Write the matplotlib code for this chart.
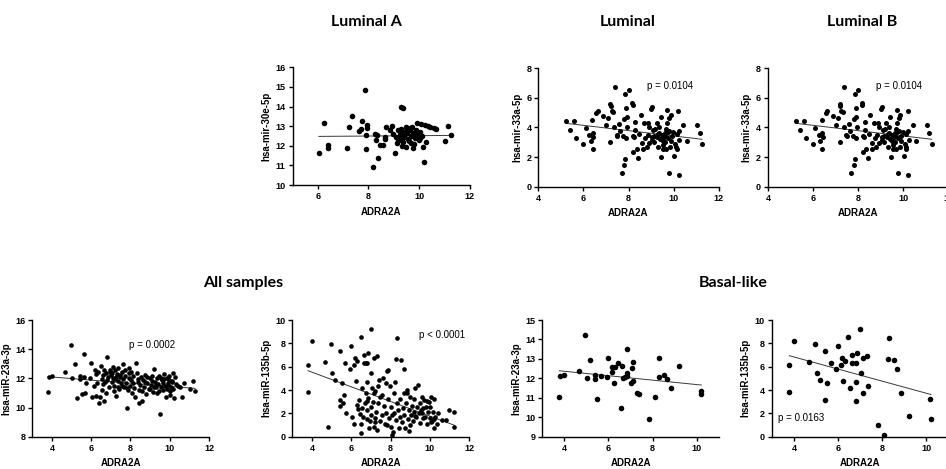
import numpy as np
import matplotlib
matplotlib.use("Agg")
import matplotlib.pyplot as plt

# ---------------- data ----------------
# Luminal A : ADRA2A vs hsa-mir-30e-5p
lumA_x = [6.04, 6.25, 6.41, 6.41, 7.17, 7.25, 7.37, 7.62, 7.70, 7.76, 7.87, 7.93, 7.93, 7.89, 7.90,
          8.17, 8.24, 8.33, 8.30, 8.38, 8.46, 8.57, 8.66, 8.66, 8.70, 8.87, 8.93, 8.97, 9.03, 9.07,
          9.13, 9.16, 9.24, 9.30, 9.30, 9.33, 9.29, 9.38, 9.38, 9.42, 9.47, 9.49, 9.54, 9.58, 9.64,
          9.67, 9.70, 9.72, 9.76, 9.76, 9.83, 9.87, 9.90, 9.93, 9.99, 10.03, 10.09, 10.13, 10.16,
          10.20, 10.24, 10.26, 10.36, 10.45, 10.58, 10.67, 11.04, 11.16, 11.26,
          9.20, 9.35, 9.50, 9.60, 9.45, 9.55, 9.80, 9.95, 10.05, 9.25, 9.15, 9.65]
lumA_y = [11.62, 13.18, 12.04, 11.87, 11.90, 12.94, 13.52, 12.76, 12.84, 13.28, 14.85, 13.06, 12.90, 12.55, 11.82,
          10.90, 12.60, 12.55, 12.30, 11.36, 12.04, 12.04, 12.47, 12.33, 12.98, 12.80, 13.00, 12.60, 11.65, 12.47,
          12.13, 12.80, 12.55, 12.87, 12.30, 11.99, 14.00, 13.90, 12.64, 12.43, 12.94, 11.92, 12.64, 12.33, 12.80,
          12.50, 12.16, 12.94, 12.67, 11.87, 12.38, 12.80, 13.15, 12.55, 12.30, 12.72, 13.11, 12.50, 11.96,
          11.19, 13.06, 12.21, 13.01, 12.98, 12.90, 12.84, 12.26, 13.01, 12.53,
          12.45, 12.20, 12.75, 12.25, 12.60, 12.85, 12.10, 12.65, 12.40, 12.70, 12.35, 12.90]
lumA_fit = (0.0095, 12.42)  # slope, intercept

# Luminal (and Luminal B, identical panel) : ADRA2A vs hsa-mir-33a-5p
lum_x = [5.24, 5.41, 5.58, 5.67, 6.00, 6.10, 6.25, 6.32, 6.38, 6.41, 6.41, 6.44, 6.56, 6.63, 6.88,
         7.00, 7.11, 7.18, 7.21, 7.18, 7.25, 7.33, 7.36, 7.39, 7.48, 7.51, 7.60, 7.62, 7.70, 7.77,
         7.80, 7.80, 7.85, 7.85, 7.89, 7.92, 7.89, 7.95, 8.01, 8.16, 8.19, 8.22, 8.25, 8.22, 8.29,
         8.30, 8.36, 8.44, 8.48, 8.54, 8.59, 8.63, 8.69, 8.73, 8.81, 8.88, 8.93, 8.93, 8.99, 9.04,
         9.04, 9.10, 9.13, 9.19, 9.25, 9.28, 9.31, 9.37, 9.37, 9.40, 9.43, 9.44, 9.49, 9.52, 9.55,
         9.58, 9.61, 9.64, 9.67, 9.70, 9.70, 9.73, 9.78, 9.81, 9.81, 9.84, 9.87, 9.92, 9.99, 10.02,
         10.06, 10.11, 10.14, 10.14, 10.20, 10.23, 10.23, 10.26, 10.43, 10.58, 11.03, 11.15, 11.26,
         9.15, 9.33, 9.46, 9.62, 9.75, 9.55, 9.05, 9.68, 9.90, 8.85]
lum_y = [4.44, 3.83, 4.44, 3.27, 2.86, 3.94, 3.49, 3.11, 4.50, 3.60, 2.57, 3.33, 5.00, 5.14, 4.77,
         4.19, 4.64, 5.59, 5.45, 3.04, 5.11, 5.07, 4.05, 6.76, 3.51, 3.42, 4.23, 3.74, 0.95, 3.42,
         1.46, 4.55, 6.26, 1.85, 5.29, 4.68, 3.27, 4.01, 6.53, 5.68, 5.50, 3.42, 3.33, 2.36, 3.83,
         4.39, 2.52, 1.91, 3.56, 4.84, 2.93, 2.57, 4.32, 3.27, 2.70, 4.28, 4.01, 2.93, 5.23, 5.36,
         3.33, 3.83, 3.42, 3.87, 4.32, 3.33, 2.66, 4.01, 3.60, 3.20, 4.73, 2.03, 3.49, 3.11, 2.52,
         3.38, 3.02, 3.42, 2.52, 5.18, 4.28, 3.72, 0.90, 4.62, 3.78, 2.70, 4.84, 3.42, 3.72, 2.07,
         2.88, 2.70, 2.52, 3.56, 5.14, 3.74, 0.79, 3.15, 4.17, 3.11, 4.17, 3.65, 2.91,
         3.05, 3.55, 3.25, 3.65, 3.30, 2.85, 3.15, 3.90, 3.10, 3.50]
lum_fit = (-0.179, 5.22)
lum_p = "p = 0.0104"

# All samples : ADRA2A vs hsa-miR-23a-3p
all23_x = [3.80, 3.83, 4.00, 4.68, 4.97, 5.03, 5.19, 5.27, 5.41, 5.44, 5.53, 5.61, 5.61, 5.66, 5.75,
           5.92, 5.98, 6.05, 6.12, 6.20, 6.22, 6.25, 6.32, 6.37, 6.42, 6.46, 6.49, 6.54, 6.56, 6.59,
           6.63, 6.66, 6.71, 6.76, 6.80, 6.83, 6.88, 6.90, 6.97, 7.02, 7.07, 7.10, 7.14, 7.17, 7.22,
           7.24, 7.27, 7.31, 7.36, 7.39, 7.42, 7.47, 7.51, 7.58, 7.61, 7.64, 7.68, 7.73, 7.78, 7.81,
           7.85, 7.90, 7.93, 7.98, 8.03, 8.08, 8.12, 8.15, 8.20, 8.25, 8.29, 8.32, 8.36, 8.41, 8.46,
           8.49, 8.53, 8.58, 8.63, 8.69, 8.75, 8.80, 8.86, 8.92, 8.97, 9.03, 9.08, 9.14, 9.20, 9.25,
           9.31, 9.34, 9.37, 9.42, 9.47, 9.51, 9.54, 9.59, 9.64, 9.68, 9.71, 9.76, 9.80, 9.85, 9.88,
           9.93, 9.98, 10.02, 10.05, 10.10, 10.15, 10.19, 10.22, 10.25, 10.32, 10.53, 10.61, 10.73,
           11.03, 11.17, 11.29,
           6.95, 7.05, 7.20, 7.35, 7.45, 7.55, 7.70, 7.80, 8.05, 8.40, 8.60, 8.85, 9.00, 9.10, 9.30,
           9.45, 9.55, 9.70, 9.90, 10.00, 10.12, 6.60, 6.75, 7.12, 7.95, 8.72, 9.18, 9.62, 9.95, 10.40]
all23_y = [11.04, 12.11, 12.18, 12.41, 14.26, 12.05, 12.96, 10.63, 12.16, 11.93, 10.93, 13.65, 12.11, 10.97, 11.70,
           12.05, 13.03, 10.74, 11.47, 12.57, 12.30, 10.79, 11.70, 12.46, 10.33, 10.74, 12.85, 11.20, 11.93, 12.23,
           10.47, 12.57, 11.75, 11.02, 13.49, 11.89, 12.11, 11.38, 12.46, 12.23, 11.77, 12.80, 11.15, 11.47, 12.57,
           10.79, 12.07, 12.30, 11.43, 11.84, 11.25, 12.11, 11.66, 12.46, 12.98, 11.93, 11.38, 12.16, 11.70, 9.94,
           11.20, 12.34, 12.69, 11.47, 11.89, 11.02, 11.66, 12.16, 11.31, 10.74, 13.07, 12.39, 11.77, 11.20, 10.33,
           11.54, 12.07, 10.47, 11.89, 11.38, 12.23, 10.93, 11.66, 11.25, 12.00, 11.54, 12.16, 11.09, 12.62, 11.77,
           11.38, 12.00, 10.97, 11.61, 12.16, 9.55, 11.38, 11.89, 11.20, 11.66, 12.30, 11.47, 10.70, 12.00, 11.25,
           11.70, 12.16, 10.86, 11.38, 11.84, 12.39, 11.25, 10.63, 12.11, 11.61, 11.38, 10.74, 11.70,
           11.25, 11.84, 11.15,
           12.60, 12.40, 11.95, 12.70, 12.20, 11.50, 12.55, 11.35, 12.45, 11.95, 11.15, 12.10, 11.30, 11.85, 11.55,
           11.15, 12.05, 11.95, 11.55, 11.10, 11.75, 11.60, 12.35, 12.05, 12.00, 11.75, 11.40, 11.95, 11.90, 11.45]
all23_fit = (-0.107, 12.52)
all23_p = "p = 0.0002"

# All samples : ADRA2A vs hsa-miR-135b-5p
all135_x = [3.80, 3.80, 4.00, 4.68, 4.98, 5.03, 5.18, 5.40, 5.40, 5.51, 5.66, 5.93, 5.99, 6.14, 6.19,
            6.23, 6.31, 6.47, 6.56, 6.64, 6.64, 6.79, 6.79, 6.79, 6.85, 7.00, 7.02, 7.14, 7.14, 7.32,
            7.36, 7.81, 8.07, 8.25, 8.31, 8.52, 8.67, 8.85, 9.22, 10.18, 10.20,
            4.82, 5.63, 5.60, 5.72, 6.05, 6.14, 6.34, 6.39, 6.44, 6.47, 6.51, 6.56, 6.61, 6.68, 6.73,
            6.78, 6.81, 6.85, 6.90, 6.95, 6.98, 7.01, 7.06, 7.11, 7.15, 7.18, 7.23, 7.28, 7.32, 7.35,
            7.40, 7.45, 7.48, 7.57, 7.62, 7.65, 7.69, 7.74, 7.77, 7.82, 7.86, 7.91, 7.96, 8.00, 8.02,
            8.07, 8.12, 8.16, 8.19, 8.24, 8.29, 8.33, 8.36, 8.41, 8.46, 8.49, 8.58, 8.63, 8.66, 8.70,
            8.75, 8.80, 8.83, 8.87, 8.92, 8.97, 9.00, 9.03, 9.08, 9.13, 9.17, 9.20, 9.25, 9.30, 9.34,
            9.37, 9.42, 9.47, 9.50, 9.54, 9.59, 9.64, 9.67, 9.71, 9.76, 9.81, 9.84, 9.88, 9.93, 9.98,
            10.01, 10.04, 10.09, 10.14, 10.18, 10.26, 10.35, 10.43, 10.60, 10.82, 10.95, 11.24, 11.20,
            7.89, 6.74, 5.45, 6.30, 7.55, 8.95, 9.60, 9.85, 10.05, 7.20]
all135_y = [3.86, 6.14, 8.20, 6.43, 7.97, 5.43, 4.86, 7.37, 3.14, 4.57, 6.34, 5.77, 7.80, 6.14, 6.71,
            4.77, 6.51, 8.51, 4.14, 7.00, 6.29, 6.29, 4.71, 3.09, 7.14, 9.23, 5.43, 6.71, 3.77, 6.94,
            4.37, 1.00, 0.17, 6.69, 8.43, 6.57, 5.80, 3.74, 1.80, 3.23, 1.51,
            0.86, 3.57, 2.90, 2.00, 1.71, 1.09, 2.34, 3.14, 1.94, 0.34, 1.09, 2.43, 1.66, 2.86, 3.77,
            1.49, 2.29, 3.29, 0.71, 1.37, 2.57, 1.86, 4.14, 3.00, 0.80, 1.57, 3.94, 2.14, 0.57, 2.86,
            4.86, 1.37, 3.37, 1.86, 5.00, 2.63, 1.09, 4.57, 2.06, 5.66, 3.20, 1.57, 4.34, 2.51, 0.86,
            1.86, 0.43, 3.71, 2.00, 4.71, 1.43, 2.91, 2.29, 0.71, 1.66, 3.20, 1.29, 2.43, 3.71, 1.86,
            0.71, 2.91, 4.00, 1.49, 2.29, 3.43, 1.00, 1.86, 2.63, 1.37, 3.20, 2.14, 4.14, 1.66, 2.57,
            4.43, 2.00, 1.20, 2.86, 2.29, 3.37, 1.57, 2.43, 3.14, 1.71, 2.57, 1.09, 2.14, 3.00, 1.57,
            2.57, 3.37, 1.37, 2.14, 0.71, 1.71, 1.09, 2.00, 1.43, 1.43, 2.26, 2.11, 0.83,
            5.69, 6.34, 2.60, 2.70, 3.60, 0.45, 2.05, 3.05, 1.25, 1.30]
all135_fit = (-0.628, 8.04)
all135_p = "p < 0.0001"

# Basal-like : ADRA2A vs hsa-miR-23a-3p
bas23_x = [3.77, 3.80, 4.00, 4.66, 4.95, 5.01, 5.16, 5.39, 5.39, 5.50, 5.65, 5.92, 5.98, 6.15, 6.18,
           6.24, 6.30, 6.43, 6.58, 6.60, 6.64, 6.77, 6.83, 6.84, 6.86, 7.01, 7.05, 7.13, 7.13, 7.31,
           7.37, 7.82, 8.10, 8.28, 8.31, 8.52, 8.67, 8.85, 9.21, 10.20, 10.21]
bas23_y = [11.06, 12.12, 12.19, 12.39, 14.25, 12.03, 12.94, 12.15, 11.98, 10.94, 12.12, 12.05, 13.03, 12.60, 12.33,
           11.78, 12.60, 12.81, 10.47, 12.63, 12.02, 12.09, 13.49, 12.29, 12.12, 11.74, 12.51, 12.84, 11.88, 11.23,
           11.19, 9.93, 11.06, 12.09, 13.06, 12.17, 11.95, 11.50, 12.65, 11.20, 11.33]
bas23_fit = (-0.114, 12.82)

# Basal-like : ADRA2A vs hsa-miR-135b-5p
bas135_x = [3.80, 3.80, 4.00, 4.68, 4.98, 5.03, 5.18, 5.40, 5.40, 5.51, 5.66, 5.93, 5.99, 6.14, 6.19,
            6.23, 6.31, 6.47, 6.56, 6.64, 6.64, 6.79, 6.79, 6.79, 6.85, 7.00, 7.02, 7.14, 7.14, 7.32,
            7.36, 7.81, 8.07, 8.25, 8.31, 8.52, 8.67, 8.85, 9.22, 10.18, 10.20]
bas135_y = [3.86, 6.14, 8.20, 6.43, 7.97, 5.43, 4.86, 7.37, 3.14, 4.57, 6.34, 5.77, 7.80, 6.14, 6.71,
            4.77, 6.51, 8.51, 4.14, 7.00, 6.29, 6.29, 4.71, 3.09, 7.14, 9.23, 5.43, 6.71, 3.77, 6.94,
            4.37, 1.00, 0.17, 6.69, 8.43, 6.57, 5.80, 3.74, 1.80, 3.23, 1.51]
bas135_fit = (-0.519, 8.91)
bas135_p = "p = 0.0163"

titles = ["Luminal A", "Luminal", "Luminal B", "All samples", "Basal-like"]
xlabel = "ADRA2A"

# ---------------- drawing ----------------
W, H = 946, 469
fig = plt.figure(figsize=(W / 100, H / 100), dpi=100)
FONT = "Liberation Sans"


def rect(left, right, top, bottom):
    return [left / W, 1 - bottom / H, (right - left) / W, (bottom - top) / H]


def panel(r, x, y, fit, ylabel, xlim, xticks, ylim, yticks, ms, ptext=None, ppos=None):
    ax = fig.add_axes(r)
    x = np.asarray(x)
    y = np.asarray(y)
    ax.scatter(x, y, s=ms, c="black", linewidths=0, zorder=3, clip_on=False)
    xs = np.array([x.min(), x.max()])
    ax.plot(xs, fit[1] + fit[0] * xs, color="#3a3a3a", lw=0.7, zorder=2)
    ax.set_xlim(*xlim)
    ax.set_ylim(*ylim)
    ax.set_xticks(xticks)
    ax.set_yticks(yticks)
    for s in ["top", "right"]:
        ax.spines[s].set_visible(False)
    for s in ["left", "bottom"]:
        ax.spines[s].set_linewidth(1.0)
        ax.spines[s].set_color("black")
    ax.tick_params(direction="out", length=3, width=1.0, colors="black", pad=2)
    for lab in ax.get_xticklabels() + ax.get_yticklabels():
        lab.set_fontfamily(FONT)
        lab.set_fontweight("bold")
        lab.set_fontsize(6.5)
    ax.set_xlabel(xlabel, fontfamily=FONT, fontweight="bold", fontsize=7, labelpad=4)
    ax.set_ylabel(ylabel, fontfamily=FONT, fontweight="bold", fontsize=7, labelpad=3)
    if ptext:
        ax.text(ppos[0], ppos[1], ptext, fontfamily=FONT, fontsize=7, ha="left", va="center")
    ax.patch.set_alpha(0)
    return ax


# top row
panel(rect(292.5, 469.7, 67.3, 185), lumA_x, lumA_y, lumA_fit, "hsa-mir-30e-5p",
      (5, 12), [6, 8, 10, 12], (10, 16), [10, 11, 12, 13, 14, 15, 16], 16)
panel(rect(538.3, 718.7, 68.3, 186.7), lum_x, lum_y, lum_fit, "hsa-mir-33a-5p",
      (4, 12), [4, 6, 8, 10, 12], (0, 8), [0, 2, 4, 6, 8], 13, lum_p, (8.8, 6.8))
panel(rect(768.0, 948.4, 68.3, 186.7), lum_x, lum_y, lum_fit, "hsa-mir-33a-5p",
      (4, 12), [4, 6, 8, 10, 12], (0, 8), [0, 2, 4, 6, 8], 13, lum_p, (8.8, 6.8))

# bottom row
panel(rect(32.3, 209.0, 320, 436.7), all23_x, all23_y, all23_fit, "hsa-miR-23a-3p",
      (3, 12), [4, 6, 8, 10, 12], (8, 16), [8, 10, 12, 14, 16], 11, all23_p, (7.95, 14.3))
panel(rect(292.3, 469.3, 320, 436.7), all135_x, all135_y, all135_fit, "hsa-miR-135b-5p",
      (3, 12), [4, 6, 8, 10, 12], (0, 10), [0, 2, 4, 6, 8, 10], 11, all135_p, (9.42, 8.7))
panel(rect(542.3, 718.7, 320, 436.7), bas23_x, bas23_y, bas23_fit, "hsa-miR-23a-3p",
      (3, 11), [4, 6, 8, 10], (9, 15), [9, 10, 11, 12, 13, 14, 15], 16)
panel(rect(771.7, 948.6, 320, 436.7), bas135_x, bas135_y, bas135_fit, "hsa-miR-135b-5p",
      (3, 11), [4, 6, 8, 10], (0, 10), [0, 2, 4, 6, 8, 10], 16, bas135_p, (3.28, 1.6))

# titles
title_pos = [(366, 22), (628, 22), (862, 22), (243, 283), (733, 283)]
for t, (px, py) in zip(titles, title_pos):
    fig.text(px / W, 1 - py / H, t, ha="center", va="center", fontfamily="Lato",
             fontweight="bold", fontsize=11.5)

fig.savefig("out.png", dpi=100)
